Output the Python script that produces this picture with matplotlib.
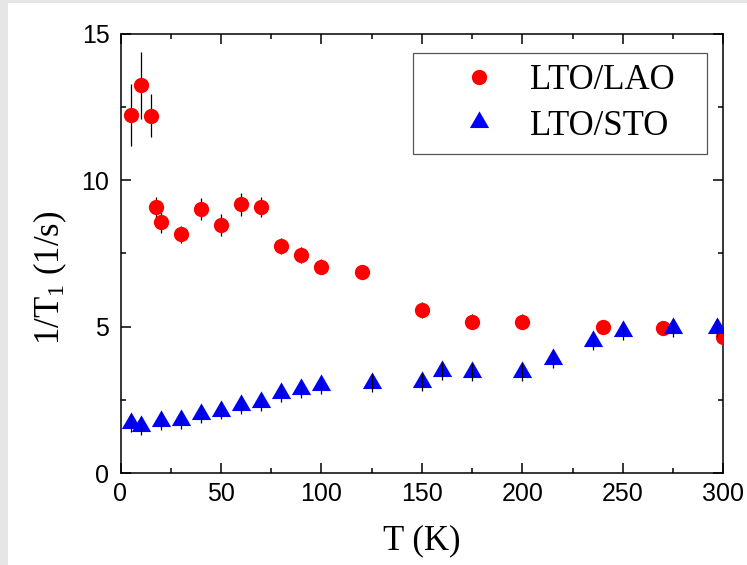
import matplotlib
matplotlib.use('Agg')
import matplotlib.pyplot as plt
from matplotlib.patches import Rectangle
from matplotlib.path import Path
from matplotlib.ticker import MultipleLocator

# LTO/LAO (red circles)
lao_T = [5, 10, 15, 17.5, 20, 30, 40, 50, 60, 70, 80, 90, 100, 120,
         150, 175, 200, 240, 270, 300]
lao_rate = [12.22, 13.23, 12.2, 9.08, 8.57, 8.16, 9.02, 8.47, 9.18, 9.08,
            7.76, 7.45, 7.05, 6.86, 5.57, 5.17, 5.17, 5.0, 4.95, 4.66]
lao_err = [1.07, 1.13, 0.72, 0.33, 0.37, 0.29, 0.37, 0.36, 0.39, 0.34,
           0.28, 0.27, 0.26, 0.2, 0.26, 0.26, 0.26, 0.2, 0.2, 0.2]

# LTO/STO (blue triangles)
sto_T = [5, 10, 20, 30, 40, 50, 60, 70, 80, 90, 100, 125, 150, 160, 175,
         200, 215, 235, 250, 275, 297]
sto_rate = [1.71, 1.62, 1.79, 1.81, 2.03, 2.14, 2.32, 2.42, 2.74, 2.86,
            3.0, 3.08, 3.11, 3.49, 3.46, 3.45, 3.89, 4.52, 4.84, 4.95, 4.95]
sto_err = [0.31, 0.31, 0.3, 0.3, 0.3, 0.3, 0.3, 0.3, 0.3, 0.3,
           0.3, 0.3, 0.31, 0.3, 0.3, 0.3, 0.3, 0.3, 0.3, 0.3, 0.3]

plt.rcParams['mathtext.fontset'] = 'custom'
plt.rcParams['mathtext.rm'] = 'Liberation Serif'
plt.rcParams['mathtext.it'] = 'Liberation Serif'
plt.rcParams['mathtext.bf'] = 'Liberation Serif'

# equilateral triangle centred on its centroid (like Origin)
tri = Path([(0, 1.155), (-1, -0.577), (1, -0.577), (0, 1.155)],
           [Path.MOVETO, Path.LINETO, Path.LINETO, Path.CLOSEPOLY])

fig = plt.figure(figsize=(7.47, 5.65), dpi=100, facecolor='white')
# grey strips on the left and top edge
fig.patches.append(Rectangle((0, 0), 8 / 747, 1, transform=fig.transFigure,
                             facecolor='#e6e6e6', edgecolor='none', zorder=-1))
fig.patches.append(Rectangle((0, 1 - 3 / 565), 1, 3 / 565, transform=fig.transFigure,
                             facecolor='#e6e6e6', edgecolor='none', zorder=-1))

ax = fig.add_axes([120.5 / 747, 91.7 / 565, 602.8 / 747, 439.8 / 565])

ax.errorbar(lao_T, lao_rate, yerr=lao_err, fmt='none', ecolor='black',
            elinewidth=0.9, capsize=0, zorder=2)
h1, = ax.plot(lao_T, lao_rate, 'o', color='#ff0000', ms=11, mew=0,
              zorder=3, label='LTO/LAO')
h2, = ax.plot(sto_T, sto_rate, marker=tri, ls='none', color='#0000ff', ms=16,
              mew=0, zorder=4, label='LTO/STO')
ax.errorbar(sto_T, sto_rate, yerr=sto_err, fmt='none', ecolor='black',
            elinewidth=0.9, capsize=0, zorder=5)

ax.set_xlim(0, 300)
ax.set_ylim(0, 15)
ax.xaxis.set_major_locator(MultipleLocator(50))
ax.xaxis.set_minor_locator(MultipleLocator(25))
ax.yaxis.set_major_locator(MultipleLocator(5))
ax.yaxis.set_minor_locator(MultipleLocator(2.5))

for sp in ax.spines.values():
    sp.set_linewidth(1.1)
ax.tick_params(which='both', direction='in', top=True, right=True, width=1.1)
ax.tick_params(which='major', length=7)
ax.tick_params(which='minor', length=3.5)
ax.tick_params(axis='x', pad=6)
ax.tick_params(axis='y', pad=8)
for lab in ax.get_xticklabels() + ax.get_yticklabels():
    lab.set_fontfamily('Liberation Sans')
    lab.set_fontsize(18)

# legend: own frame, markers/text placed inside it
x0, x1 = (413.3 - 120.5) / 602.8, (707.3 - 120.5) / 602.8
y1, y0 = 1 - (53.3 - 33.5) / 439.8, 1 - (153.7 - 33.5) / 439.8
ax.add_patch(Rectangle((x0, y0), x1 - x0, y1 - y0, transform=ax.transAxes,
                       facecolor='white', edgecolor='#555555', linewidth=0.9, zorder=6))
leg = ax.legend(handles=[h1, h2], loc='center left', bbox_to_anchor=(x0, (y0 + y1) / 2),
                frameon=False, borderpad=0.43, borderaxespad=0, handlelength=2.94,
                handletextpad=0.0, labelspacing=0.35,
                prop={'family': 'Liberation Serif', 'size': 25})
leg.set_zorder(7)

fig.text(422 / 747, 1 - 541 / 565, 'T (K)', ha='center', va='center',
         family='Liberation Serif', fontsize=25)
fig.text(50 / 747, 1 - 278 / 565, r'1/T$_1$ (1/s)', ha='center', va='center',
         rotation=90, family='Liberation Serif', fontsize=25)

fig.savefig('out.png', dpi=100)
